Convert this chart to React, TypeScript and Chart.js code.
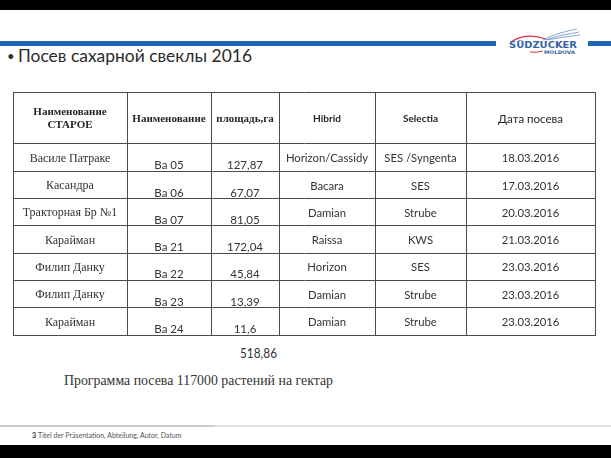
import React, { useEffect, useRef } from 'react';
import { Chart, registerables } from 'chart.js';

Chart.register(...registerables);

// ---- data ----
const headerLines: string[][] = [
  ['Наименование', 'СТАРОЕ'],
  ['Наименование'],
  ['площадь,га'],
  ['Hibrid'],
  ['Selectia'],
  ['Дата посева'],
];
const oldNames = ['Василе Патраке', 'Касандра', 'Тракторная Бр №1', 'Карайман', 'Филип Данку', 'Филип Данку', 'Карайман'];
const fieldNames = ['Ba 05', 'Ba 06', 'Ba 07', 'Ba 21', 'Ba 22', 'Ba 23', 'Ba 24'];
const areas = [127.87, 67.07, 81.05, 172.04, 45.84, 13.39, 11.6];
const hybrids = ['Horizon/Cassidy', 'Bacara', 'Damian', 'Raissa', 'Horizon', 'Damian', 'Damian'];
const breeders = ['SES /Syngenta', 'SES', 'Strube', 'KWS', 'SES', 'Strube', 'Strube'];
const sowingDates = ['18.03.2016', '17.03.2016', '20.03.2016', '21.03.2016', '23.03.2016', '23.03.2016', '23.03.2016'];
const totalArea = '518,86';
const titleText = 'Посев сахарной свеклы 2016';
const programText = 'Программа посева 117000 растений на гектар';
const footerText = 'Titel der Präsentation, Abteilung, Autor, Datum';
const pageNumber = '3';

// ---- layout (not data) ----
const colWidths = [114, 84, 68, 96, 91, 129];
const headerHeight = 52;
const rowHeight = 27.3;

const SERIF = '"Liberation Serif", "Times New Roman", serif';
const SANS = 'Lato, "Open Sans", "Noto Sans", sans-serif';

function cumulative(ws: number[]): number[] {
  const out = [0];
  ws.forEach((w) => out.push(out[out.length - 1] + w));
  return out;
}

const fmt = (v: number) => String(v).replace('.', ',');

export default function App() {
  const ref = useRef<HTMLCanvasElement>(null);

  useEffect(() => {
    const xEdges = cumulative(colWidths);
    const yEdges = cumulative([headerHeight, ...oldNames.map(() => rowHeight)]);
    const columns = [
      oldNames,
      fieldNames,
      areas.map(fmt),
      hybrids,
      breeders,
      sowingDates,
    ];

    const tablePlugin = {
      id: 'tableText',
      afterDraw(chart: any) {
        const { ctx } = chart;
        const xs = chart.scales.x;
        const ys = chart.scales.y;
        ctx.save();
        ctx.textAlign = 'center';
        ctx.textBaseline = 'middle';
        const cx = (c: number) => xs.getPixelForValue((xEdges[c] + xEdges[c + 1]) / 2);
        const cy = (r: number) => ys.getPixelForValue((yEdges[r] + yEdges[r + 1]) / 2);

        // header
        headerLines.forEach((lines, c) => {
          if (c <= 2) ctx.font = `bold 11px ${SERIF}`;
          else if (c <= 4) ctx.font = `bold 10px ${SANS}`;
          else ctx.font = `11.5px ${SANS}`;
          ctx.fillStyle = '#262626';
          const lh = 13;
          const y0 = cy(0) - ((lines.length - 1) * lh) / 2 + 1;
          lines.forEach((t, i) => ctx.fillText(t, cx(c), y0 + i * lh));
        });

        // body
        columns.forEach((col, c) => {
          col.forEach((t, r) => {
            let dy = 1;
            if (c === 0) ctx.font = `12px ${SERIF}`;
            else if (c <= 2) {
              ctx.font = `11.5px ${SANS}`;
              dy = 8;
            } else ctx.font = `11.3px ${SANS}`;
            ctx.fillStyle = '#333333';
            ctx.fillText(t, cx(c), cy(r + 1) + dy);
          });
        });
        ctx.restore();
      },
    };

    const gridCfg = { color: '#4a4a4a', lineWidth: 1, drawTicks: false };
    const borderCfg = { display: true, color: '#4a4a4a', width: 1 };

    const chart = new Chart(ref.current as HTMLCanvasElement, {
      type: 'scatter',
      data: { datasets: [] },
      options: {
        responsive: false,
        animation: false,
        layout: { padding: { left: 13, top: 92, right: 16, bottom: 123 } },
        plugins: { legend: { display: false }, tooltip: { enabled: false } },
        scales: {
          x: {
            type: 'linear',
            min: 0,
            max: xEdges[xEdges.length - 1],
            afterBuildTicks: (s: any) => {
              s.ticks = xEdges.map((v) => ({ value: v }));
            },
            ticks: { display: false },
            grid: gridCfg,
            border: borderCfg,
          },
          y: {
            type: 'linear',
            reverse: true,
            min: 0,
            max: yEdges[yEdges.length - 1],
            afterBuildTicks: (s: any) => {
              s.ticks = yEdges.map((v) => ({ value: v }));
            },
            ticks: { display: false },
            grid: gridCfg,
            border: borderCfg,
          },
        },
      } as any,
      plugins: [tablePlugin],
    });
    return () => chart.destroy();
  }, []);

  return (
    <div
      style={{
        position: 'fixed',
        left: 0,
        top: 0,
        width: 611,
        height: 458,
        background: '#ffffff',
        overflow: 'hidden',
      }}
    >
      <svg width={611} height={458} style={{ position: 'absolute', left: 0, top: 0 }}>
        <rect x={0} y={0} width={611} height={10} fill="#000" />
        <rect x={0} y={445} width={611} height={13} fill="#000" />
        <rect x={0} y={41} width={496} height={5} fill="#1e67b5" />
        <rect x={588} y={41} width={23} height={5} fill="#1e67b5" />
        {/* logo */}
        <path d="M511 42 Q 526 32 546 39" stroke="#d8323c" strokeWidth={1.3} fill="none" />
        <path d="M530 52 Q 536 53 543 51" stroke="#d8323c" strokeWidth={1} fill="none" />
        <path d="M543 40 Q 556 33 577 29" stroke="#6a90c8" strokeWidth={0.8} fill="none" />
        <path d="M545 40 Q 559 35 579 32" stroke="#6a90c8" strokeWidth={0.8} fill="none" />
        <path d="M547 40 Q 561 37 580 35" stroke="#6a90c8" strokeWidth={0.8} fill="none" />
        <text x={509} y={48} fontFamily="'DejaVu Sans', sans-serif" fontWeight="bold" fontSize={9.5} fill="#3462a8" textLength={68} lengthAdjust="spacingAndGlyphs">SÜDZUCKER</text>
        <text x={544} y={54} fontFamily="'DejaVu Sans', sans-serif" fontWeight="bold" fontSize={4.8} fill="#3462a8" textLength={31} lengthAdjust="spacingAndGlyphs">MOLDOVA</text>
        {/* title */}
        <text x={7} y={61} fontFamily={SANS} fontSize={13} fill="#333">•</text>
        <text x={18} y={62} fontFamily={SANS} fontSize={18} fill="#2a2a2a" textLength={234} lengthAdjust="spacingAndGlyphs">{titleText}</text>
        {/* below table */}
        <text x={240} y={358} fontFamily={SANS} fontSize={13} fill="#333" textLength={37} lengthAdjust="spacingAndGlyphs">{totalArea}</text>
        <text x={64} y={385} fontFamily={SERIF} fontSize={15} fill="#333" textLength={269} lengthAdjust="spacingAndGlyphs">{programText}</text>
        {/* footer */}
        <line x1={0} y1={426} x2={215} y2={426} stroke="#9a9a9a" strokeWidth={1} />
        <line x1={215} y1={426} x2={611} y2={426} stroke="#c8c8c8" strokeWidth={1} />
        <text x={32} y={437.5} fontFamily={SANS} fontSize={7} fill="#555">
          <tspan fontWeight="bold" fill="#333">{pageNumber}</tspan>
          <tspan dx={2}>{footerText}</tspan>
        </text>
      </svg>
      <canvas
        ref={ref}
        width={611}
        height={458}
        style={{ position: 'absolute', left: 0, top: 0, width: 611, height: 458 }}
      />
    </div>
  );
}
